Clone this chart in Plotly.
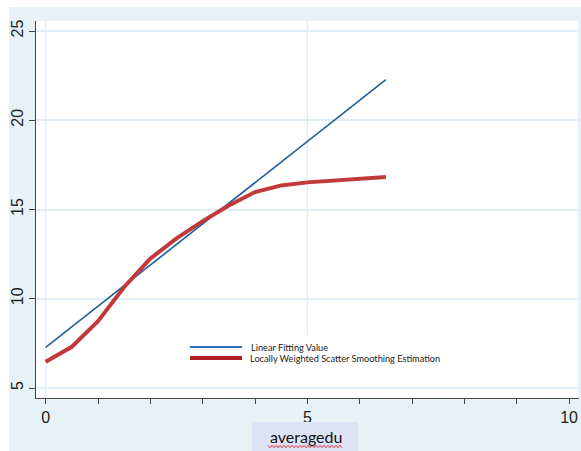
import plotly.graph_objects as go

# Linear fit (endpoints of the fitted line)
lin_x = [0.0, 6.5]
lin_y = [7.28, 22.27]

# Lowess smoothing estimate
lowess_x = [0.0, 0.5, 1.0, 1.5, 2.0, 2.5, 3.0, 3.5, 4.0, 4.5, 5.0, 5.5, 6.0, 6.5]
lowess_y = [6.47, 7.31, 8.74, 10.66, 12.25, 13.38, 14.35, 15.22, 15.98, 16.35,
            16.52, 16.63, 16.72, 16.82]

# vertical reference lines of the panel
x_grid = [0, 5]

legend_labels = ["Linear Fitting Value", "Locally Weighted Scatter Smoothing Estimation"]
x_title = "averagedu"

W, H = 581, 451
L, R, T, B = 36, 2, 21, 53
pw, ph = W - L - R, H - T - B


def px(x):
    return (x - L) / pw


def py(y):
    return (H - B - y) / ph


BLUE = "#1f5f9e"
RED = "#c0393b"
BG = "#e7f2f6"
GRID = "#e2eef5"

fig = go.Figure()
fig.add_trace(go.Scatter(x=lin_x, y=lin_y, mode="lines",
                         line=dict(color=BLUE, width=1.6), showlegend=False))
fig.add_trace(go.Scatter(x=lowess_x, y=lowess_y, mode="lines",
                         line=dict(color=RED, width=4), showlegend=False))

shapes = [
    # white strips framing the panel
    dict(type="rect", xref="paper", yref="paper", x0=px(0), x1=px(9), y0=py(0), y1=py(H),
         fillcolor="white", line_width=0, layer="below"),
    dict(type="rect", xref="paper", yref="paper", x0=px(0), x1=px(W), y0=py(7), y1=py(0),
         fillcolor="white", line_width=0, layer="below"),
]
for gx in x_grid:
    shapes.append(dict(type="line", xref="x", yref="paper", x0=gx, x1=gx, y0=0, y1=1,
                       line=dict(color=GRID, width=1.5), layer="between"))
shapes += [
    # right edge of the panel
    dict(type="line", xref="paper", yref="paper", x0=1, x1=1, y0=0, y1=1,
         line=dict(color=GRID, width=1.5), layer="between"),
    # legend box
    dict(type="rect", xref="paper", yref="paper", x0=px(117), x1=px(462), y0=py(397), y1=py(335),
         fillcolor="white", line_width=0, layer="between"),
    dict(type="line", xref="paper", yref="paper", x0=px(190), x1=px(242), y0=py(347), y1=py(347),
         line=dict(color="#2b6fba", width=2.2)),
    dict(type="line", xref="paper", yref="paper", x0=px(190), x1=px(242), y0=py(358), y1=py(358),
         line=dict(color="#b01e22", width=4)),
    # axis title box
    dict(type="rect", xref="paper", yref="paper", x0=px(252), x1=px(358), y0=py(H), y1=py(422),
         fillcolor="#dde3f4", line_width=0, layer="above"),
]

# spell-check style wavy underline under the axis title
wx0, wx1, wy = 268, 343, 446.5
pts = []
xx = wx0
i = 0
while xx <= wx1:
    pts.append(f"{px(xx):.5f},{py(wy + (1.2 if i % 2 else -1.2)):.5f}")
    xx += 2
    i += 1
shapes.append(dict(type="path", xref="paper", yref="paper",
                   path="M" + " L".join(pts), line=dict(color="#e0303a", width=1),
                   layer="above"))

annotations = [
    dict(text=legend_labels[0], xref="paper", yref="paper", x=px(249), y=py(347),
         xanchor="left", yanchor="middle", showarrow=False,
         font=dict(family="Lato", size=9.2, color="#222")),
    dict(text=legend_labels[1], xref="paper", yref="paper", x=px(248), y=py(358),
         xanchor="left", yanchor="middle", showarrow=False,
         font=dict(family="Lato", size=9.2, color="#222")),
    dict(text=x_title, xref="paper", yref="paper", x=px(306), y=py(436),
         xanchor="center", yanchor="middle", showarrow=False,
         font=dict(family="Lato", size=16, color="#111")),
]

fig.update_layout(
    width=W, height=H,
    margin=dict(l=L, r=R, t=T, b=B),
    paper_bgcolor=BG, plot_bgcolor="white",
    shapes=shapes, annotations=annotations,
    showlegend=False,
    xaxis=dict(range=[-0.185, 10.19], tick0=0, dtick=5, showgrid=False,
               zeroline=False,
               showline=True, linecolor="#444", linewidth=1.2,
               ticks="outside", ticklen=5, tickcolor="#444",
               minor=dict(dtick=1, ticks="outside", ticklen=5, tickcolor="#444", showgrid=False),
               tickfont=dict(family="Liberation Sans", size=16, color="#222")),
    yaxis=dict(range=[4.44, 25.56], tick0=0, dtick=5, showgrid=True,
               gridcolor=GRID, gridwidth=1.5, zeroline=False,
               showline=True, linecolor="#444", linewidth=1.2,
               ticks="outside", ticklen=6, tickcolor="#444", tickangle=-90,
               tickfont=dict(family="Liberation Sans", size=16, color="#222")),
)

fig.write_html("out.html")
